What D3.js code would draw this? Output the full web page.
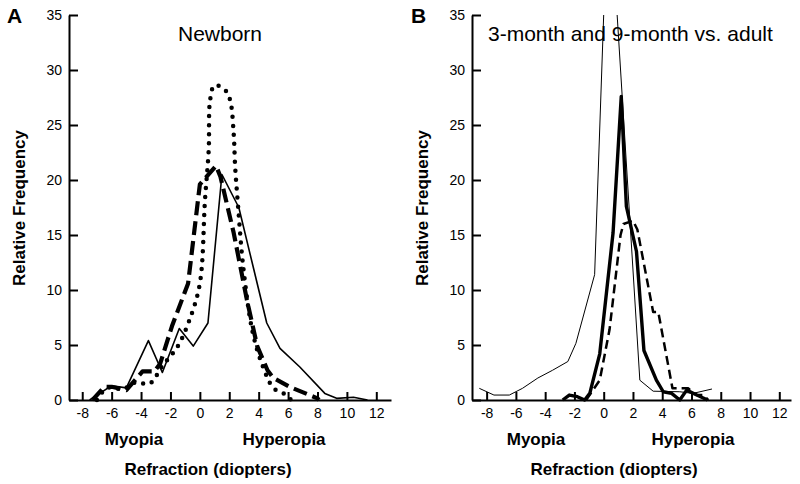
<!DOCTYPE html>
<html>
<head>
<meta charset="utf-8">
<style>
  body { margin: 0; background: #fff; }
  text { font-family: "Liberation Sans", Arial, sans-serif; fill: #000; }
  .tick text { font-size: 14px; }
  .axis path, .axis line { stroke: #000; stroke-width: 2px; }
  .line { fill: none; stroke: #000; }
</style>
</head>
<body>
<div id="chart"></div>
<script src="https://cdnjs.cloudflare.com/ajax/libs/d3/7.8.5/d3.min.js"></script>
<script>

// ---- data ----
var xTicks = [-8, -6, -4, -2, 0, 2, 4, 6, 8, 10, 12];
var yTicks = [0, 5, 10, 15, 20, 25, 30, 35];

// panel A: newborn
var nbSolidX = [-7.5, -6.0, -5.0, -3.5, -2.55, -1.4, -0.45, 0.55, 1.5, 2.65, 4.55, 5.45, 6.8, 8.5, 9.3, 10.45, 11.4];
var nbSolidY = [0, 1.3, 1.1, 5.4, 2.5, 6.5, 4.9, 7.0, 20.5, 17.5, 7.0, 4.7, 3.0, 0.6, 0.15, 0.25, 0];

var nbDashX = [-7.3, -6.5, -6.0, -5.0, -3.9, -3.1, -2.7, -1.9, -0.8, 0.0, 1.1, 1.4, 2.3, 3.2, 3.9, 4.6, 5.0, 6.1, 8.0, 8.1];
var nbDashY = [0, 1.2, 1.2, 0.9, 2.6, 2.6, 3.3, 6.7, 10.6, 19.6, 21.3, 20.3, 15.2, 9.1, 4.9, 2.7, 2.0, 1.2, 0.15, 0];

var nbDotX = [-7.0, -6.3, -5.2, -4.4, -3.4, -2.6, -1.5, -0.7, 0.0, 0.35, 0.6, 0.7, 1.0, 1.7, 2.05, 2.3, 2.4, 2.6, 2.95, 3.6, 4.3, 5.0, 5.9, 6.2];
var nbDotY = [0, 1.1, 1.0, 1.6, 1.5, 3.0, 4.9, 7.3, 10.6, 18.2, 22.7, 27.3, 28.6, 28.2, 27.3, 24.2, 21.2, 17.6, 12.1, 6.1, 3.0, 1.1, 0.45, 0];

// panel B: 3-month and 9-month vs. adult
var adultX = [-8.5, -7.5, -6.45, -5.55, -4.5, -3.5, -2.45, -1.9, -0.62, 0.33, 2.47, 3.38, 5.2, 6.1, 7.4];
var adultY = [1.06, 0.45, 0.45, 1.06, 2.0, 2.7, 3.5, 5.15, 11.4, 47.6, 1.8, 0.8, 0.75, 0.6, 1.0];

var m3X = [-2.8, -2.35, -1.8, -1.3, -0.95, -0.27, 0.64, 1.2, 1.55, 2.24, 2.75, 3.6, 4.07, 4.64, 5.2, 5.67, 6.36, 7.1];
var m3Y = [0, 0.45, 0.3, 0, 0.6, 4.2, 15.2, 27.6, 17.6, 13.5, 4.5, 1.8, 0.75, 0.6, 0, 0.9, 0.45, 0];

var m9X = [-1.2, -0.27, 0.4, 1.15, 1.35, 2.0, 2.3, 3.38, 3.73, 4.7, 5.2, 5.77, 6.36, 6.82, 7.15];
var m9Y = [0, 1.8, 6.4, 15.0, 16.0, 16.3, 15.5, 8.0, 8.0, 1.06, 1.06, 1.06, 0.45, 0.45, 0];

function zip(xs, ys) { return xs.map(function(x, i) { return {x: x, y: ys[i]}; }); }

var width = 800, height = 484;
var svg = d3.select("#chart").append("svg")
    .attr("width", width).attr("height", height);

var y = d3.scaleLinear().domain([0, 35]).range([400, 15]);

function panel(id, x, opts) {
    var g = svg.append("g");

    g.append("clipPath").attr("id", id)
      .append("rect")
        .attr("x", x.range()[0]).attr("y", y(35))
        .attr("width", x.range()[1] - x.range()[0])
        .attr("height", y(0) - y(35) + 10);

    var xAxis = d3.axisBottom(x).tickValues(xTicks)
        .tickSizeInner(-8).tickSizeOuter(0).tickPadding(8)
        .tickFormat(function(d) { return String(d); });
    var yAxis = d3.axisLeft(y).tickValues(yTicks)
        .tickSizeInner(-9).tickSizeOuter(0).tickPadding(7)
        .tickFormat(function(d) { return String(d); });

    g.append("g").attr("class", "axis")
        .attr("transform", "translate(0," + y(0) + ")").call(xAxis);
    g.append("g").attr("class", "axis")
        .attr("transform", "translate(" + x.range()[0] + ",0)").call(yAxis);

    var plot = g.append("g").attr("clip-path", "url(#" + id + ")");
    opts.series.forEach(function(s) {
        var line = d3.line()
            .x(function(d) { return x(d.x); })
            .y(function(d) { return y(d.y); })
            .curve(s.curve || d3.curveLinear);
        plot.append("path")
            .datum(s.data)
            .attr("class", "line")
            .attr("d", line)
            .attr("stroke-width", s.w)
            .attr("stroke-dasharray", s.dash || null)
            .attr("stroke-linecap", s.cap || "butt")
            .attr("stroke-linejoin", "round");
    });

    g.append("text").attr("x", opts.letterX).attr("y", 23)
        .attr("font-size", 21).attr("font-weight", "bold").text(opts.letter);
    g.append("text").attr("x", opts.titleX).attr("y", 41)
        .attr("text-anchor", opts.titleAnchor)
        .attr("font-size", 21).text(opts.title);
    g.append("text")
        .attr("transform", "translate(" + opts.ylabX + ",208) rotate(-90)")
        .attr("text-anchor", "middle")
        .attr("font-size", 17).attr("font-weight", "bold")
        .text("Relative Frequency");
    g.append("text").attr("x", opts.myopiaX).attr("y", 445)
        .attr("text-anchor", "middle").attr("font-size", 17).attr("font-weight", "bold")
        .text("Myopia");
    g.append("text").attr("x", opts.hyperX).attr("y", 445)
        .attr("text-anchor", "middle").attr("font-size", 17).attr("font-weight", "bold")
        .text("Hyperopia");
    g.append("text").attr("x", opts.refrX).attr("y", 475)
        .attr("text-anchor", "middle").attr("font-size", 17).attr("font-weight", "bold")
        .text("Refraction (diopters)");
}

var xA = d3.scaleLinear().domain([-8.9, 13]).range([69, 391]);
var xB = d3.scaleLinear().domain([-9, 12.8]).range([472, 791]);

panel("clipA", xA, {
    letter: "A", letterX: 7,
    title: "Newborn", titleX: 220, titleAnchor: "middle",
    ylabX: 25, myopiaX: 134, hyperX: 284, refrX: 208,
    series: [
        {data: zip(nbSolidX, nbSolidY), w: 1.6},
        {data: zip(nbDashX, nbDashY), w: 4.2, dash: "14,6"},
        {data: zip(nbDotX, nbDotY), w: 4.5, dash: "0,9", cap: "round", curve: d3.curveCatmullRom}
    ]
});

panel("clipB", xB, {
    letter: "B", letterX: 411,
    title: "3-month and 9-month vs. adult", titleX: 488, titleAnchor: "start",
    ylabX: 428, myopiaX: 536, hyperX: 693, refrX: 614,
    series: [
        {data: zip(adultX, adultY), w: 1},
        {data: zip(m3X, m3Y), w: 3.4},
        {data: zip(m9X, m9Y), w: 2.5, dash: "9,5"}
    ]
});

</script>
</body>
</html>
